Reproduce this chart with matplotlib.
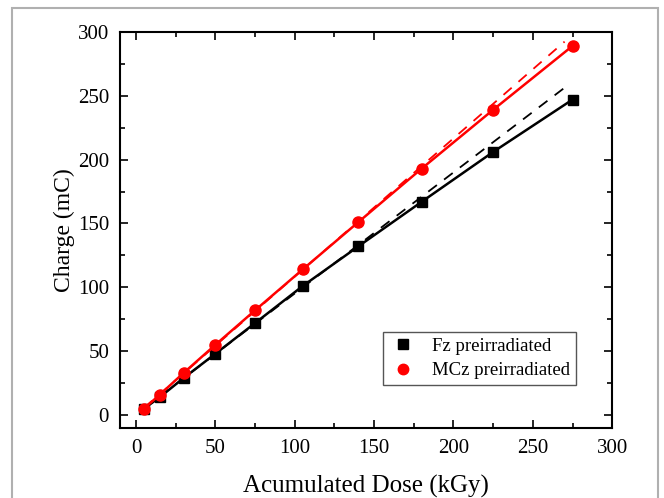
import numpy as np
import matplotlib.pyplot as plt
from matplotlib.patches import Rectangle
from matplotlib.lines import Line2D

plt.rcParams['font.family'] = ['Liberation Serif', 'DejaVu Serif']

dose = [5, 15, 30, 50, 75, 105, 140, 180, 225, 275]
fz = [5, 14, 29, 48, 72, 101, 132, 167, 206, 247]
mcz = [5, 16, 33, 55, 82, 114, 151, 193, 239, 289]

# linear fits over the low-dose points, extrapolated as dashed lines
n_fit = 7
fit_x = np.array([5, 270])

fig = plt.figure(figsize=(6.64, 4.98), dpi=100)
ax = fig.add_axes([0.181, 0.141, 0.741, 0.795])

fig.add_artist(Rectangle((12/664, -0.1), (658-12)/664, 1.1 - 8/498,
                         transform=fig.transFigure, fill=False,
                         edgecolor='#b0b0b0', linewidth=1.5))

for y, col, mk, ms in [(fz, 'black', 's', 7.5), (mcz, 'red', 'o', 8)]:
    k, b = np.polyfit(dose[:n_fit], y[:n_fit], 1)
    ax.plot(fit_x, k*fit_x + b, color=col, lw=1.3, ls=(0, (6, 5)))
    ax.plot(dose, y, color=col, lw=1.8, marker=mk, ms=ms)

ax.set_xlim(-10, 300)
ax.set_ylim(-10, 300)
ax.set_xticks(np.arange(0, 301, 50))
ax.set_yticks(np.arange(0, 301, 50))
ax.set_xticks(np.arange(25, 300, 50), minor=True)
ax.set_yticks(np.arange(25, 300, 50), minor=True)
ax.tick_params(which='both', direction='in', top=True, right=True, width=1.2,
               labelsize=15)
ax.tick_params(which='major', length=6, pad=8)
ax.tick_params(which='minor', length=3.5)
for s in ax.spines.values():
    s.set_linewidth(1.5)

ax.set_xlabel('Acumulated Dose (kGy)', fontsize=18, labelpad=12)
ax.set_ylabel('Charge (mC)', fontsize=17, labelpad=2)

handles = [Line2D([], [], color='black', marker='s', ls='none', ms=7),
           Line2D([], [], color='red', marker='o', ls='none', ms=7.5)]
leg = ax.legend(handles, ['Fz preirradiated', 'MCz preirradiated'],
                loc='lower right', bbox_to_anchor=(0.945, 0.085),
                fontsize=13.5, fancybox=False, edgecolor='#555555',
                framealpha=1, handlelength=1.5, borderpad=0.3,
                labelspacing=0.4, handletextpad=0.8)
leg.get_frame().set_linewidth(1)

fig.savefig('out.png', dpi=100)
